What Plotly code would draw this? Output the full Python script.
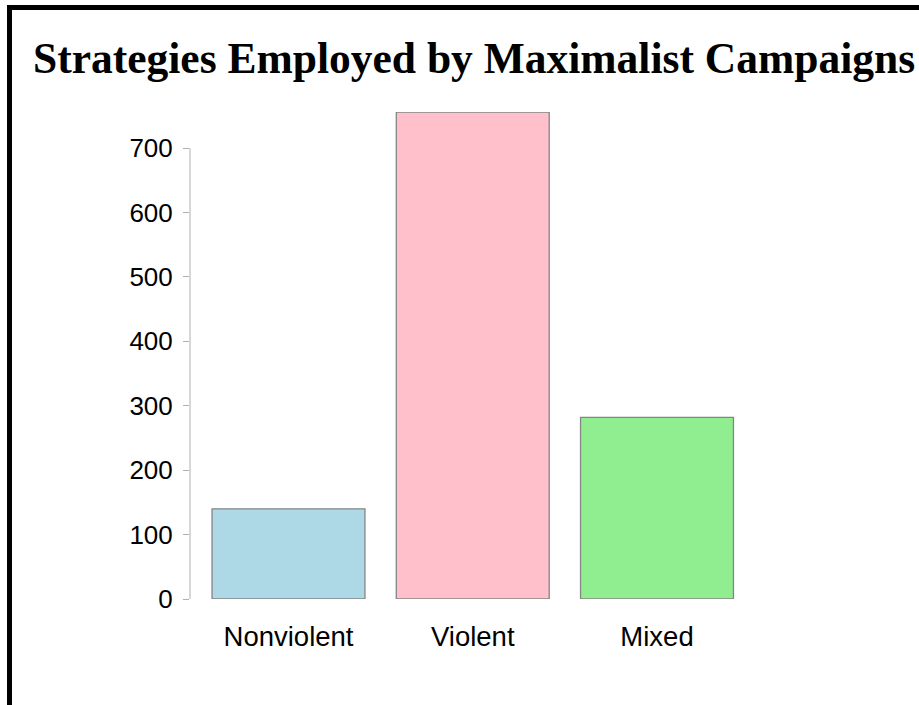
import plotly.graph_objects as go

# Campaign counts by primary strategy
strategies = ["Nonviolent", "Violent", "Mixed"]
campaign_counts = [140, 756, 282]
bar_colors = ["#ADD8E6", "#FFC0CB", "#90EE90"]
y_ticks = [0, 100, 200, 300, 400, 500, 600, 700]

W, H = 919, 705
left, right, top, bottom = 190, 760, 112, 599
plot_w, plot_h = right - left, bottom - top

def px_x(p):
    return (p - left) / plot_w

def px_y(p):
    return (bottom - p) / plot_h

fig = go.Figure(
    go.Bar(
        x=list(range(len(strategies))),
        y=campaign_counts,
        marker=dict(color=bar_colors, line=dict(color="#858585", width=1.3)),
        hoverinfo="x+y",
    )
)

step = 184.25
first_center = 288.5

fig.update_layout(
    width=W,
    height=H,
    margin=dict(l=left, r=W - right, t=top, b=H - bottom),
    paper_bgcolor="white",
    plot_bgcolor="white",
    showlegend=False,
    bargap=0.17,
    title=dict(
        text="<b>Strategies Employed by Maximalist Campaigns</b>",
        font=dict(family="Liberation Serif", size=43.5, color="black"),
        xref="container",
        x=33 / W,
        xanchor="left",
        yref="container",
        y=1 - 58 / H,
        yanchor="middle",
    ),
    xaxis=dict(
        tickmode="array",
        tickvals=list(range(len(strategies))),
        ticktext=strategies,
        range=[(left - first_center) / step, (right - first_center) / step],
        showline=False,
        showgrid=False,
        zeroline=False,
        ticks="",
        tickfont=dict(family="Liberation Sans", size=27.5, color="black"),
        ticklabelstandoff=18,
    ),
    yaxis=dict(
        range=[0, max(campaign_counts)],
        tickmode="array",
        tickvals=y_ticks,
        showline=False,
        showgrid=False,
        zeroline=False,
        ticks="outside",
        ticklen=6,
        tickwidth=1,
        tickcolor="#b0b0b0",
        tickfont=dict(family="Liberation Sans", size=26, color="black"),
        ticklabelstandoff=5,
    ),
)

# y-axis domain line spanning the tick range
fig.add_shape(
    type="line",
    xref="paper",
    yref="y",
    x0=0,
    x1=0,
    y0=y_ticks[0],
    y1=y_ticks[-1],
    line=dict(color="#b0b0b0", width=1),
)

# frame around the chart container
fig.add_shape(
    type="line", xref="paper", yref="paper",
    x0=px_x(7), x1=px_x(W + 10), y0=px_y(7.5), y1=px_y(7.5),
    line=dict(color="black", width=5), layer="above",
)
fig.add_shape(
    type="line", xref="paper", yref="paper",
    x0=px_x(9.5), x1=px_x(9.5), y0=px_y(5), y1=px_y(H + 10),
    line=dict(color="black", width=5), layer="above",
)

fig.write_html("out.html", config={"displayModeBar": False})
